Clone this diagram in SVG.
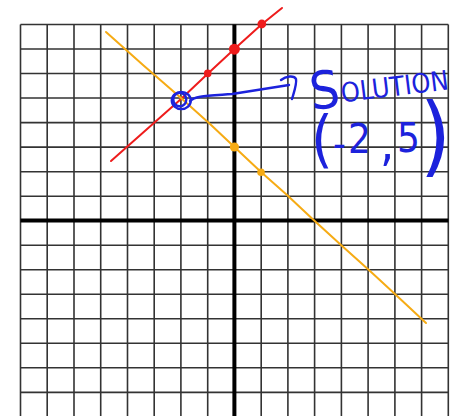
<svg xmlns="http://www.w3.org/2000/svg" width="461" height="416" viewBox="0 0 461 416">
<style>
.grid{stroke:#333;stroke-width:1.6;fill:none}
.axis{stroke:#000;stroke-width:4;fill:none}
.red{stroke:#ee1c1c;stroke-width:2;fill:none;stroke-linecap:round;stroke-linejoin:round}
.orange{stroke:#f6ab14;stroke-width:2;fill:none;stroke-linecap:round;stroke-linejoin:round}
.rdot{fill:#ee1c1c}
.odot{fill:#f6ab14}
.blue{stroke:#1c22dc;stroke-width:2.4;fill:none;stroke-linecap:round;stroke-linejoin:round}
.hand{fill:#1c22dc;font-family:"DejaVu Sans Condensed","DejaVu Sans","Liberation Sans",sans-serif}
</style>
<rect width="461" height="416" fill="#fff"/>
<g id="grid">
<path class="grid" d="M20.5,24.5V416M47.2,24.5V416M74,24.5V416M100.7,24.5V416M127.5,24.5V416M154.2,24.5V416M180.9,24.5V416M207.7,24.5V416M261.2,24.5V416M287.9,24.5V416M314.6,24.5V416M341.4,24.5V416M368.1,24.5V416M394.9,24.5V416M421.6,24.5V416M448.3,24.5V416
M20.5,24.5H448.3M20.5,49H448.3M20.5,73.5H448.3M20.5,98H448.3M20.5,122.6H448.3M20.5,147.1H448.3M20.5,171.7H448.3M20.5,196.2H448.3M20.5,245.2H448.3M20.5,269.7H448.3M20.5,294.2H448.3M20.5,318.8H448.3M20.5,343.3H448.3M20.5,367.8H448.3M20.5,392.4H448.3"/>
</g>
<g id="axes">
<path class="axis" d="M234.4,24.5V416M20.5,220.5H448.3"/>
</g>
<g id="red-line">
<path class="red" d="M111,161 L146,130 L181,99 L208,73.5 L234.4,49 L261.5,24.5 L282,8"/>
<circle class="rdot" cx="207.7" cy="73.4" r="3.8"/>
<circle class="rdot" cx="234.4" cy="49.2" r="5.5"/>
<circle class="rdot" cx="261.8" cy="24" r="4.4"/>
</g>
<g id="orange-line">
<path class="orange" d="M106,32 L143,65 L181,98 L210,124 L234.4,147 L261,172 L287,195 L312,218.5 L341,245 L370,271 L396,295 L426,323"/>
<circle class="odot" cx="234.4" cy="147" r="4.6"/>
<circle class="odot" cx="261" cy="172.3" r="3.8"/>
</g>
<g id="solution-point">
<ellipse class="blue" cx="181.3" cy="100.5" rx="9.5" ry="8.6" stroke-width="2.8"/>
<ellipse class="blue" cx="179.8" cy="99.5" rx="6.5" ry="6.8"/>
</g>
<g id="connectors">
<path class="blue" d="M190,101 C195,96 205,96 232,94 L289,85"/>
<path class="blue" d="M281,80 C286,76 294,75 296,79 C297,84 294,92 292,99"/>
</g>
<g id="solution-label">
<text class="hand" transform="rotate(-7 313 110)" x="312" y="110"><tspan font-size="52">S</tspan><tspan font-size="27" dx="1" dy="-4">OLUTION</tspan></text>
</g>
<g id="coordinates-label">
<text class="hand"><tspan x="311" y="160" font-size="62">(</tspan><tspan x="333" y="158" font-size="40">-</tspan><tspan x="348" y="153" font-size="40">2</tspan><tspan x="380" y="160" font-size="50">,</tspan><tspan x="397" y="152" font-size="40">5</tspan><tspan x="420" y="165" font-size="88">)</tspan></text>
</g>
</svg>
